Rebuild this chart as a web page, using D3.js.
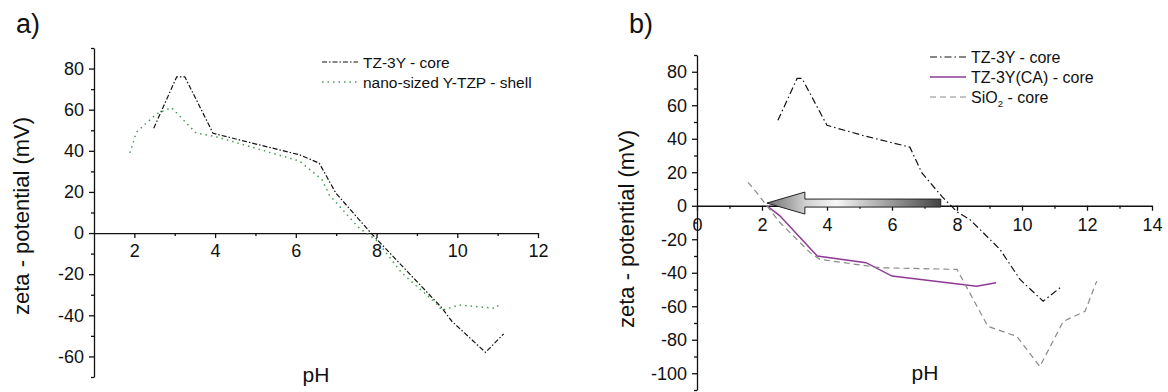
<!DOCTYPE html>
<html>
<head>
<meta charset="utf-8">
<script src="https://cdn.jsdelivr.net/npm/d3@7"></script>
<style>
  body { margin: 0; background: #fff; }
  text { font-family: "Liberation Sans", Arial, sans-serif; fill: #111; }
</style>
</head>
<body>
<div id="plot"></div>
<script>
// panel a) data
const phA_core = [2.48, 3.05, 3.25, 3.95, 6.1, 6.58, 6.99, 7.86, 9.6, 9.87, 10.7, 11.15];
const zetaA_core = [51, 76, 76, 48.5, 38, 34, 19.5, 0, -36, -43, -58, -49];
const phA_shell = [1.89, 2.05, 2.55, 2.92, 3.53, 4.0, 6.09, 6.65, 6.83, 7.57, 7.99, 8.63, 9.47, 9.62, 10.04, 10.95, 11.07];
const zetaA_shell = [39, 49, 58, 61, 48.6, 47, 35, 26, 18.5, 2.4, -3.4, -19.5, -34, -37.6, -35, -36.6, -34];

// panel b) data
const phB_core = [2.49, 3.08, 3.23, 4.0, 5.1, 6.55, 6.92, 7.54, 8.0, 8.4, 9.32, 9.94, 10.65, 11.17];
const zetaB_core = [51, 76, 76, 48, 42, 35, 19.6, 5.4, -3.6, -8.3, -26, -44, -57, -49];
const phB_ca = [2.15, 2.55, 3.7, 5.2, 6.0, 8.6, 9.2];
const zetaB_ca = [0, -6, -30, -34, -42, -48, -46];
const phB_sio2 = [1.57, 1.85, 2.55, 3.48, 3.78, 5.63, 8.0, 8.95, 9.84, 10.55, 11.27, 11.94, 12.3];
const zetaB_sio2 = [14, 7.5, -10, -28, -32, -37, -38, -72, -78, -96, -69, -63, -45];

// arrow (pH from -> to, at zeta)
const arrowPH = [7.5, 2.15];
const arrowZeta = 1;

// ticks
const xTicksA = [2, 4, 6, 8, 10, 12];
const xMinorA = [3, 5, 7, 9, 11];
const yTicksA = [-60, -40, -20, 0, 20, 40, 60, 80];
const yMinorA = [-70, -50, -30, -10, 10, 30, 50, 70, 90];
const xTicksB = [0, 2, 4, 6, 8, 10, 12, 14];
const xMinorB = [1, 3, 5, 7, 9, 11, 13];
const yTicksB = [-100, -80, -60, -40, -20, 0, 20, 40, 60, 80];
const yMinorB = [-110, -90, -70, -50, -30, -10, 10, 30, 50, 70, 90];

const legendA = ["TZ-3Y - core", "nano-sized Y-TZP - shell"];
const legendB = ["TZ-3Y - core", "TZ-3Y(CA) - core", "SiO2 - core"];

window.addEventListener("load", main);

function main(){
  const width = 1168, height = 392;
  let svg = d3.select("#plot").append("svg")
    .attr("width", width)
    .attr("height", height);

  svg.append("rect").attr("width", width).attr("height", height).attr("fill", "#fff");

  // scales
  let xA = d3.scaleLinear().domain([1, 12]).range([94, 538]);
  let yA = d3.scaleLinear().domain([-70, 90]).range([377, 48]);
  let xB = d3.scaleLinear().domain([0, 14]).range([697, 1152]);
  let yB = d3.scaleLinear().domain([-110, 90]).range([390, 55]);

  // axes helper
  function drawAxes(x, y, xt, xm, yt, ym, xPad){
    let g = svg.append("g");
    g.append("g").attr("transform", `translate(0,${y(0)})`)
      .call(d3.axisBottom(x).tickValues(xm).tickSize(3).tickFormat("").tickSizeOuter(0))
      .call(s => s.select(".domain").remove());
    g.append("g").attr("transform", `translate(0,${y(0)})`)
      .call(d3.axisBottom(x).tickValues(xt).tickSize(5).tickPadding(xPad).tickSizeOuter(0).tickFormat(d3.format("d")));
    g.append("g").attr("transform", `translate(${x.range()[0]},0)`)
      .call(d3.axisLeft(y).tickValues(ym).tickSize(3).tickFormat("").tickSizeOuter(0))
      .call(s => s.select(".domain").remove());
    g.append("g").attr("transform", `translate(${x.range()[0]},0)`)
      .call(d3.axisLeft(y).tickValues(yt).tickSize(5).tickPadding(5).tickSizeOuter(0)
        .tickFormat(d => d3.format("d")(d).replace("−", "-")));
    g.selectAll(".tick text").attr("font-size", 18).attr("font-family", null).attr("fill", "#111");
    g.selectAll("path, line").attr("stroke", "#111").attr("stroke-width", 1.3);
    return g;
  }

  drawAxes(xA, yA, xTicksA, xMinorA, yTicksA, yMinorA, 6);
  drawAxes(xB, yB, xTicksB, xMinorB, yTicksB, yMinorB, 7);

  // titles
  function titles(cx, cy, px, py, tag, tx){
    svg.append("text").attr("transform", `translate(${cx},${cy}) rotate(-90)`)
      .attr("text-anchor", "middle").attr("font-size", 22).text("zeta - potential (mV)");
    svg.append("text").attr("x", px).attr("y", py)
      .attr("text-anchor", "middle").attr("font-size", 21).text("pH");
    svg.append("text").attr("x", tx).attr("y", 33).attr("font-size", 27).text(tag);
  }
  titles(29, 216, 316, 382, "a)", 16);
  titles(634, 229, 925, 380, "b)", 629);

  // line drawing
  function drawLine(x, y, ph, z, color, dash, w){
    let pts = ph.map((p, i) => [p, z[i]]);
    let gen = d3.line().x(d => x(d[0])).y(d => y(d[1]));
    svg.append("path").datum(pts)
      .attr("d", gen)
      .attr("fill", "none")
      .attr("stroke", color)
      .attr("stroke-width", w)
      .attr("stroke-dasharray", dash);
  }

  const styleA = [
    {color: "#111", dash: "5,2,1.5,2", w: 1.2},
    {color: "#4a9a55", dash: "1.5,4", w: 1.5}
  ];
  const styleB = [
    {color: "#111", dash: "7,3,1.5,3", w: 1.2},
    {color: "#8e3a94", dash: null, w: 1.5},
    {color: "#8a8a8a", dash: "6,4", w: 1.2}
  ];

  drawLine(xA, yA, phA_core, zetaA_core, styleA[0].color, styleA[0].dash, styleA[0].w);
  drawLine(xA, yA, phA_shell, zetaA_shell, styleA[1].color, styleA[1].dash, styleA[1].w);

  // arrow under the lines of panel b
  let defs = svg.append("defs");
  let grad = defs.append("linearGradient").attr("id", "arrowGrad")
    .attr("gradientUnits", "userSpaceOnUse")
    .attr("x1", xB(arrowPH[1])).attr("x2", xB(arrowPH[0]))
    .attr("y1", 0).attr("y2", 0);
  grad.append("stop").attr("offset", "0%").attr("stop-color", "#6e6e6e");
  grad.append("stop").attr("offset", "22%").attr("stop-color", "#cfcfcf");
  grad.append("stop").attr("offset", "40%").attr("stop-color", "#f8f8f8");
  grad.append("stop").attr("offset", "100%").attr("stop-color", "#444");

  let tipX = xB(arrowPH[1]), tailX = xB(arrowPH[0]), cy = yB(arrowZeta) - 1;
  let headL = 38, headH = 11, shaftH = 4;
  let arrowPts = [
    [tipX, cy], [tipX + headL, cy - headH], [tipX + headL, cy - shaftH],
    [tailX, cy - shaftH], [tailX, cy + shaftH], [tipX + headL, cy + shaftH],
    [tipX + headL, cy + headH]
  ];
  svg.append("polygon")
    .attr("points", arrowPts.map(p => p.join(",")).join(" "))
    .attr("fill", "url(#arrowGrad)")
    .attr("stroke", "#222")
    .attr("stroke-width", 1);

  drawLine(xB, yB, phB_core, zetaB_core, styleB[0].color, styleB[0].dash, styleB[0].w);
  drawLine(xB, yB, phB_ca, zetaB_ca, styleB[1].color, styleB[1].dash, styleB[1].w);
  drawLine(xB, yB, phB_sio2, zetaB_sio2, styleB[2].color, styleB[2].dash, styleB[2].w);

  // legends
  function legend(items, styles, lx, ly, gap, fs){
    items.forEach((name, i) => {
      let yy = ly + i * gap;
      svg.append("line")
        .attr("x1", lx).attr("x2", lx + 36).attr("y1", yy).attr("y2", yy)
        .attr("stroke", styles[i].color).attr("stroke-width", styles[i].w)
        .attr("stroke-dasharray", styles[i].dash);
      let t = svg.append("text").attr("x", lx + 41).attr("y", yy + fs * 0.36).attr("font-size", fs);
      if (name.startsWith("SiO2")) {
        t.append("tspan").text("SiO");
        t.append("tspan").attr("font-size", fs * 0.6).attr("dy", 4).text("2");
        t.append("tspan").attr("dy", -4).text(name.slice(4));
      } else {
        t.text(name);
      }
    });
  }
  legend(legendA, styleA, 322, 62, 20, 15.5);
  legend(legendB, styleB, 930, 57, 20, 16);
}
</script>
</body>
</html>
